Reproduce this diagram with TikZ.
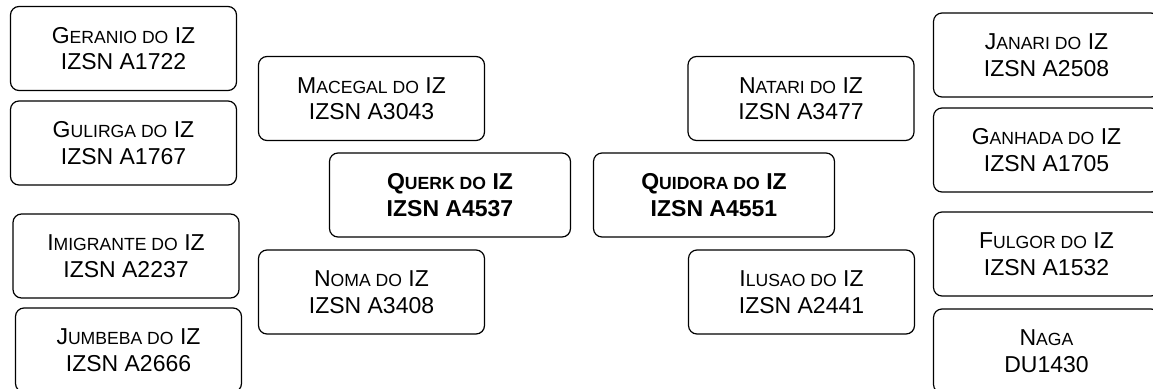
\documentclass[tikz,border=0pt]{standalone}
\usepackage{fontspec}
\setmainfont{Liberation Sans}
\newcommand\mysc[1]{{\fontsize{17.6}{26.5}\selectfont #1}}
\tikzset{
  pbox/.style={draw, line width=1.2pt, rounded corners=8.5pt, inner sep=0pt,
    align=center, font=\fontsize{23}{26.5}\selectfont,
    minimum width=#1, minimum height=84pt},
  pbox/.default=226pt,
  cbox/.style={pbox=241pt, font=\fontsize{23}{26.5}\selectfont\bfseries}
}
\begin{document}
\begin{tikzpicture}[x=1pt,y=-1pt]
\useasboundingbox (0,0) rectangle (1153,388);
\clip (0,0) rectangle (1153,388);
% left column
\node[pbox] (geranio) at (123.5,48.5) {G\mysc{ERANIO DO} IZ\\IZSN A1722};
\node[pbox] (gulirga) at (123.5,143) {G\mysc{ULIRGA DO} IZ\\IZSN A1767};
\node[pbox] (imigrante) at (126,256) {I\mysc{MIGRANTE DO} IZ\\IZSN A2237};
\node[pbox] (jumbeba) at (128.5,350) {J\mysc{UMBEBA DO} IZ\\IZSN A2666};
% second column
\node[pbox] (macegal) at (371.5,98.5) {M\mysc{ACEGAL DO} IZ\\IZSN A3043};
\node[pbox] (noma) at (371.5,292) {N\mysc{OMA DO} IZ\\IZSN A3408};
% centre
\node[cbox] (querk) at (450,195) {Q\mysc{UERK DO} IZ\\IZSN A4537};
\node[cbox] (quidora) at (714,195) {Q\mysc{UIDORA DO} IZ\\IZSN A4551};
% fourth column
\node[pbox] (natari) at (801,98.5) {N\mysc{ATARI DO} IZ\\IZSN A3477};
\node[pbox] (ilusao) at (801.5,292) {I\mysc{LUSAO DO} IZ\\IZSN A2441};
% right column
\node[pbox] (janari) at (1046.5,55) {J\mysc{ANARI DO} IZ\\IZSN A2508};
\node[pbox] (ganhada) at (1046.5,150) {G\mysc{ANHADA DO} IZ\\IZSN A1705};
\node[pbox] (fulgor) at (1046.5,254) {F\mysc{ULGOR DO} IZ\\IZSN A1532};
\node[pbox] (naga) at (1046.5,351) {N\mysc{AGA}\\DU1430};
\end{tikzpicture}
\end{document}
